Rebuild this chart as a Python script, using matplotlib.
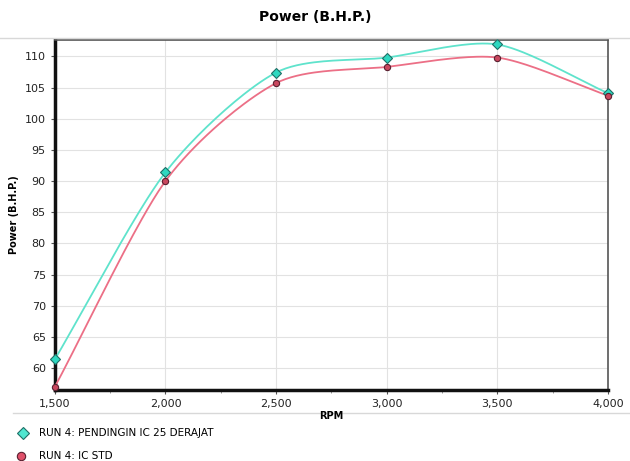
import numpy as np
import matplotlib.pyplot as plt
from matplotlib.lines import Line2D

# data
rpm = [1500, 2000, 2500, 3000, 3500, 4000]
power_ic25 = [61.4, 91.4, 107.4, 109.8, 111.9, 104.1]
power_std = [57.0, 90.0, 105.7, 108.3, 109.8, 103.7]
y_ticks = [60, 65, 70, 75, 80, 85, 90, 95, 100, 105, 110]
x_ticks = [1500, 2000, 2500, 3000, 3500, 4000]

CYAN = '#5fe3cc'
CYAN_MK = '#2ed8c0'
RED = '#ec6f86'
RED_MK = '#c9475e'


# smooth line through the points (cardinal spline), like the dyno software draws
def smooth(xs, ys, n=40, k=0.8):
    xs = np.asarray(xs, float)
    ys = np.asarray(ys, float)
    t = np.linspace(0, 1, n)
    h00 = 2 * t**3 - 3 * t**2 + 1
    h10 = t**3 - 2 * t**2 + t
    h01 = -2 * t**3 + 3 * t**2
    h11 = t**3 - t**2
    out_x, out_y = [], []
    for p, out in ((xs, out_x), (ys, out_y)):
        m = np.zeros_like(p)
        m[1:-1] = k * (p[2:] - p[:-2]) / 2
        m[0] = k * (p[1] - p[0])
        m[-1] = k * (p[-1] - p[-2])
        for i in range(len(p) - 1):
            out.extend(h00 * p[i] + h10 * m[i] + h01 * p[i + 1] + h11 * m[i + 1])
    return out_x, out_y


fig = plt.figure(figsize=(6.3, 4.61), dpi=100)
ax = fig.add_axes([0.087, 0.154, 0.878, 0.759])

sx, sy = smooth(rpm, power_ic25)
ax.plot(sx, sy, color=CYAN, lw=1.3, zorder=3)
sx, sy = smooth(rpm, power_std)
ax.plot(sx, sy, color=RED, lw=1.3, zorder=3)
ax.plot(rpm, power_ic25, ls='none', marker='D', ms=5, mfc=CYAN_MK, mec='#1f6f66', mew=0.8, zorder=4, clip_on=False)
ax.plot(rpm, power_std, ls='none', marker='o', ms=4.5, mfc=RED_MK, mec='#5a2030', mew=0.8, zorder=4, clip_on=False)

ax.set_xlim(1500, 4000)
ax.set_ylim(56.5, 112.6)
ax.set_xticks(x_ticks)
ax.set_xticklabels([f'{v:,}' for v in x_ticks])
ax.set_yticks(y_ticks)
ax.set_xticks(np.arange(1500, 4001, 250), minor=True)
ax.grid(True, color='#e2e2e2', lw=0.8)
ax.set_axisbelow(True)
ax.tick_params(labelsize=8, length=3, color='#555555', colors='#222222')
ax.tick_params(which='minor', length=2, color='#888888')

for s in ['left', 'bottom']:
    ax.spines[s].set_linewidth(2.5)
    ax.spines[s].set_color('#111111')
for s in ['top', 'right']:
    ax.spines[s].set_linewidth(1.2)
    ax.spines[s].set_color('#555555')

ax.set_ylabel('Power (B.H.P.)', fontsize=7, fontweight='bold', labelpad=4)
fig.text(0.5, 0.963, 'Power (B.H.P.)', ha='center', va='center', fontsize=10, fontweight='bold')
fig.text(0.525, 0.097, 'RPM', ha='center', va='center', fontsize=7, fontweight='bold')

# separator lines
fig.add_artist(Line2D([0, 1], [0.918, 0.918], color='#d8d8d8', lw=1.0))
fig.add_artist(Line2D([0.02, 1], [0.104, 0.104], color='#d8d8d8', lw=1.0))

# legend at the bottom
fig.add_artist(Line2D([0.037], [0.06], marker='D', ms=6, mfc='#4fe6d0', mec='#1f6f66', mew=0.8))
fig.add_artist(Line2D([0.033], [0.011], marker='o', ms=6, mfc='#e0506a', mec='#5a2030', mew=0.8))
fig.text(0.062, 0.06, 'RUN 4: PENDINGIN IC 25 DERAJAT', va='center', fontsize=7.5)
fig.text(0.062, 0.011, 'RUN 4: IC STD', va='center', fontsize=7.5)

fig.savefig('out.png', dpi=100)
